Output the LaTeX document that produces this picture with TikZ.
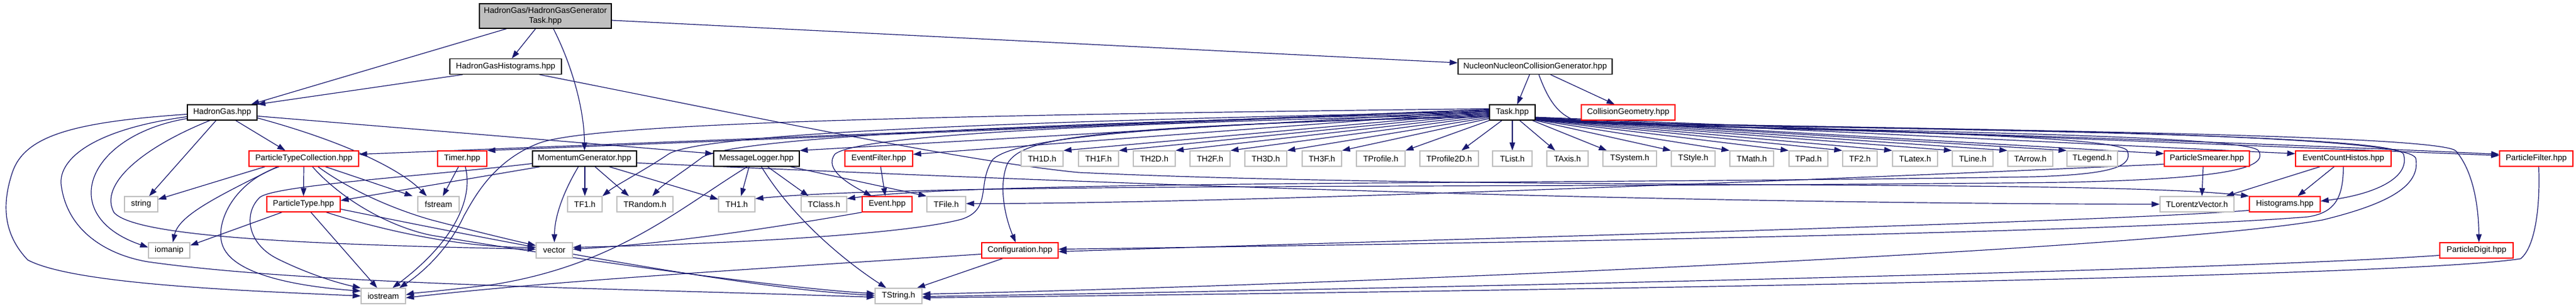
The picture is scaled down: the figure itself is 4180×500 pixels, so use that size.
\documentclass[tikz,border=0pt]{standalone}
\usepackage{fontspec}
\setmainfont{Liberation Sans}
\usetikzlibrary{arrows.meta}
\definecolor{edgec}{HTML}{191970}
\definecolor{sysgray}{HTML}{BFBFBF}
\definecolor{trunc}{HTML}{FF0000}
\definecolor{rootfill}{HTML}{BFBFBF}
\pgfdeclarelayer{bg}
\pgfdeclarelayer{edges}
\pgfsetlayers{bg,edges,main}
\tikzset{
  nbox/.style={rectangle, line width=1.3pt, minimum height=25pt, inner sep=0pt, fill=white, text=black, font=\fontsize{13.3}{15.5}\selectfont},
  docb/.style={nbox, draw=black},
  truncb/.style={nbox, draw=trunc},
  sysb/.style={nbox, draw=sysgray},
  dep/.style={draw=edgec, line width=1.2pt, -{Triangle[length=13pt,width=9pt]}},
}
\begin{document}
\begin{tikzpicture}[x=1pt,y=-1pt]
\begin{pgfonlayer}{bg}
\fill[white] (0,0) rectangle (4180,500);
\end{pgfonlayer}
\useasboundingbox (0,0) rectangle (4180,500);
% ---- nodes ----
\node[docb, fill=rootfill, minimum width=214pt, minimum height=40pt, align=center] (root) at (885,26) {HadronGas/HadronGasGenerator\\Task.hpp};
\node[docb, minimum width=181pt] (hgh) at (820.5,108) {HadronGasHistograms.hpp};
\node[docb, minimum width=250pt] (nncg) at (2491,108) {NucleonNucleonCollisionGenerator.hpp};
\node[docb, minimum width=113pt] (hg) at (360.5,182.5) {HadronGas.hpp};
\node[docb, minimum width=74pt] (task) at (2454,182.5) {Task.hpp};
\node[truncb, minimum width=152pt] (cgeo) at (2642,182.5) {CollisionGeometry.hpp};
% row 3
\node[truncb, minimum width=178pt] (ptc) at (493,257.5) {ParticleTypeCollection.hpp};
\node[truncb, minimum width=80pt] (timer) at (750,257.5) {Timer.hpp};
\node[docb, minimum width=169pt] (mg) at (948.5,257.5) {MomentumGenerator.hpp};
\node[docb, minimum width=139pt] (mlog) at (1227.5,257.5) {MessageLogger.hpp};
\node[truncb, minimum width=110pt] (efilt) at (1426,257.5) {EventFilter.hpp};
\node[sysb, minimum width=68pt] (th1d) at (1691,257.5) {TH1D.h};
\node[sysb, minimum width=65pt] (th1f) at (1782.5,257.5) {TH1F.h};
\node[sysb, minimum width=68pt] (th2d) at (1873,257.5) {TH2D.h};
\node[sysb, minimum width=65pt] (th2f) at (1963.5,257.5) {TH2F.h};
\node[sysb, minimum width=68pt] (th3d) at (2054,257.5) {TH3D.h};
\node[sysb, minimum width=64pt] (th3f) at (2145,257.5) {TH3F.h};
\node[sysb, minimum width=79pt] (tprof) at (2240.5,257.5) {TProfile.h};
\node[sysb, minimum width=95pt] (tprof2) at (2351.5,257.5) {TProfile2D.h};
\node[sysb, minimum width=64pt] (tlist) at (2454,257.5) {TList.h};
\node[sysb, minimum width=67pt] (taxis) at (2543.5,257.5) {TAxis.h};
\node[sysb, minimum width=87pt] (tsys) at (2644.5,257.5) {TSystem.h};
\node[sysb, minimum width=71pt] (tstyle) at (2747.5,257.5) {TStyle.h};
\node[sysb, minimum width=71pt] (tmath) at (2842.5,257.5) {TMath.h};
\node[sysb, minimum width=63pt] (tpad) at (2934.5,257.5) {TPad.h};
\node[sysb, minimum width=56pt] (tf2) at (3018,257.5) {TF2.h};
\node[sysb, minimum width=73pt] (tlatex) at (3107.5,257.5) {TLatex.h};
\node[sysb, minimum width=66pt] (tline) at (3201,257.5) {TLine.h};
\node[sysb, minimum width=73pt] (tarrow) at (3294.5,257.5) {TArrow.h};
\node[sysb, minimum width=82pt] (tlegend) at (3395,257.5) {TLegend.h};
\node[truncb, minimum width=138pt] (psmear) at (3581,257.5) {ParticleSmearer.hpp};
\node[truncb, minimum width=155pt] (ech) at (3802.5,257.5) {EventCountHistos.hpp};
\node[truncb, minimum width=119pt] (pfilt) at (4115.5,257.5) {ParticleFilter.hpp};
% row 4
\node[sysb, minimum width=54pt] (string) at (229,331.5) {string};
\node[truncb, minimum width=119pt] (ptype) at (492.5,331.5) {ParticleType.hpp};
\node[sysb, minimum width=67pt] (fstream) at (711.5,331.5) {fstream};
\node[sysb, minimum width=56pt] (tf1) at (949,331.5) {TF1.h};
\node[sysb, minimum width=91pt] (trandom) at (1046.5,331.5) {TRandom.h};
\node[sysb, minimum width=59pt] (th1) at (1195.5,331.5) {TH1.h};
\node[sysb, minimum width=74pt] (tclass) at (1337,331.5) {TClass.h};
\node[truncb, minimum width=81pt] (event) at (1439.5,331.5) {Event.hpp};
\node[sysb, minimum width=63pt] (tfile) at (1535.5,331.5) {TFile.h};
\node[sysb, minimum width=120pt] (tlv) at (3565,331.5) {TLorentzVector.h};
\node[truncb, minimum width=115pt] (hist) at (3707.5,331.5) {Histograms.hpp};
% row 5
\node[sysb, minimum width=67pt] (iomanip) at (274.5,406.5) {iomanip};
\node[sysb, minimum width=59pt] (vector) at (899.5,406.5) {vector};
\node[truncb, minimum width=124pt] (config) at (1655,406.5) {Configuration.hpp};
\node[truncb, minimum width=119pt] (pdigit) at (4018.5,406.5) {ParticleDigit.hpp};
% row 6
\node[sysb, minimum width=72pt] (iostream) at (622,480.5) {iostream};
\node[sysb, minimum width=76pt] (tstring) at (1458,480.5) {TString.h};
% ---- edges ----
\begin{pgfonlayer}{edges}
% root
\draw[dep] ([xshift=-63pt]root.south) -- ([xshift=47pt]hg.north);
\draw[dep] ([xshift=-16pt]root.south) -- ([xshift=10pt]hgh.north);
\draw[dep] ([xshift=13pt]root.south) .. controls (930,110) and (948,180) .. (mg.north);
\draw[dep] ([yshift=-7pt]root.east) -- ([yshift=6pt]nncg.west);
% HadronGasHistograms
\draw[dep] ([xshift=-70pt]hgh.south) -- (hg.north east);
\draw[dep] ([xshift=55pt]hgh.south) .. controls (1200,185) and (1550,260) .. (1750,280) .. controls (2400,310) and (3400,290) .. (hist.north west);
% NucleonNucleonCollisionGenerator
\draw[dep] ([xshift=-9pt]nncg.south) -- ([xshift=8pt]task.north);
\draw[dep] ([xshift=25pt]nncg.south) -- ([xshift=-22pt]cgeo.north);
\draw[dep] ([xshift=6pt]nncg.south) .. controls (2515,170) and (2535,197) .. (2580,200) .. controls (3200,215) and (3800,238) .. ([yshift=7pt]pfilt.west);
% HadronGas
\draw[dep] ([xshift=22pt]hg.south) -- ([xshift=-30pt]ptc.north);
\draw[dep] ([xshift=-10pt]hg.south) -- ([xshift=13pt]string.north);
\draw[dep] ([yshift=-10pt]hg.west) .. controls (140,220) and (90,350) .. ([yshift=5pt]iomanip.west);
\draw[dep] ([yshift=-3pt]hg.west) .. controls (120,198) and (40,220) .. (20,280) .. controls (0,340) and (10,385) .. (45,422) .. controls (120,462) and (400,472) .. (iostream.west);
\draw[dep] ([yshift=-7pt]hg.west) .. controls (150,210) and (90,260) .. (100,305) .. controls (112,380) and (180,415) .. (240,425) .. controls (500,462) and (1000,468) .. ([yshift=-2pt]tstring.west);
\draw[dep] ([xshift=-20pt]hg.south) .. controls (230,240) and (160,300) .. (185,345) .. controls (220,385) and (500,397) .. ([yshift=2pt]vector.west);
\draw[dep] ([yshift=-6pt]hg.east) -- ([yshift=8pt]mlog.west);
\draw[dep] ([yshift=-9pt]hg.east) .. controls (560,230) and (650,275) .. ([xshift=-19pt]fstream.north);
% ParticleTypeCollection
\draw[dep] ([xshift=-63pt]ptc.south) -- ([yshift=8pt]string.east);
\draw[dep] ([xshift=-43pt]ptc.south) .. controls (350,320) and (290,350) .. ([xshift=6pt]iomanip.north);
\draw[dep] ([xshift=-40pt]ptc.south) .. controls (380,295) and (350,360) .. (360,395) .. controls (375,450) and (500,466) .. ([yshift=8pt]iostream.west);
\draw[dep] (ptc.south) -- (ptype.north);
\draw[dep] ([xshift=35pt]ptc.south) -- ([xshift=-42pt]fstream.north);
\draw[dep] ([xshift=23pt]ptc.south) .. controls (570,310) and (640,340) .. (700,357) .. controls (780,378) and (840,392) .. ([yshift=8pt]vector.west);
\draw[dep] ([xshift=14pt]ptc.south) .. controls (560,330) and (640,370) .. (700,382) .. controls (1000,432) and (1300,470) .. ([yshift=4pt]tstring.west);
% ParticleType
\draw[dep] ([xshift=-35pt]ptype.south) -- ([yshift=8pt]iomanip.east);
\draw[dep] ([xshift=12pt]ptype.south) -- ([xshift=-10pt]iostream.north);
\draw[dep] ([xshift=37pt]ptype.south) .. controls (640,380) and (760,402) .. ([yshift=5pt]vector.west);
\draw[dep] ([yshift=-8pt]ptype.east) .. controls (800,390) and (1200,468) .. ([yshift=1pt]tstring.west);
% MomentumGenerator
\draw[dep] ([yshift=-8pt]mg.west) .. controls (700,285) and (450,300) .. (422,320) .. controls (395,345) and (400,395) .. (450,420) .. controls (500,445) and (550,460) .. (iostream.north west);
\draw[dep] ([xshift=-72pt]mg.south) -- ([yshift=6pt]ptype.east);
\draw[dep] ([xshift=-10pt]mg.south) .. controls (915,310) and (900,350) .. (vector.north);
\draw[dep] ([xshift=0.5pt]mg.south) -- (tf1.north);
\draw[dep] ([xshift=17pt]mg.south) -- ([xshift=-26pt]trandom.north);
\draw[dep] ([xshift=40pt]mg.south) -- ([yshift=8pt]th1.west);
\draw[dep] ([yshift=-7pt]mg.east) .. controls (1500,285) and (2500,330) .. (tlv.west);
% Timer
\draw[dep] ([xshift=-6pt]timer.south) -- ([xshift=7pt]fstream.north);
\draw[dep] ([xshift=5pt]timer.south) .. controls (768,320) and (740,390) .. ([xshift=15pt]iostream.north);
% MessageLogger
\draw[dep] ([xshift=-12pt]mlog.south) -- ([xshift=7pt]th1.north);
\draw[dep] ([xshift=18pt]mlog.south) -- ([xshift=-25pt]tclass.north);
\draw[dep] ([xshift=55pt]mlog.south) -- (tfile.north west);
\draw[dep] ([xshift=-15pt]mlog.south) .. controls (1100,340) and (1000,430) .. (800,462) .. controls (700,474) and (670,476) .. ([yshift=2pt]iostream.east);
\draw[dep] ([xshift=8pt]mlog.south) .. controls (1290,360) and (1380,430) .. ([xshift=-20pt]tstring.north);
% EventFilter, Event
\draw[dep] ([xshift=3pt]efilt.south) -- ([xshift=-3pt]event.north);
\draw[dep] (event.south west) .. controls (1300,362) and (1100,395) .. ([yshift=2pt]vector.east);
% Configuration
\draw[dep] ([yshift=-6pt]config.west) .. controls (1300,432) and (900,455) .. ([yshift=-3pt]iostream.east);
\draw[dep] ([xshift=-28pt]config.south) -- ([xshift=30pt]tstring.north);
% Task: straight fan to the left
\draw[dep] ([yshift=5pt]task.west) -- ([yshift=7pt]ptc.east);
\draw[dep] ([yshift=4pt]task.west) -- (timer.north east);
\draw[dep] ([yshift=3pt]task.west) -- (mlog.north east);
\draw[dep] ([yshift=2pt]task.west) -- ([yshift=7pt]efilt.east);
\draw[dep] (task.west) -- (th1d.north east);
\draw[dep] ([yshift=-2pt]task.west) -- (th1f.north east);
\draw[dep] ([yshift=-4pt]task.west) -- (th2d.north east);
\draw[dep] ([yshift=-6pt]task.west) -- (th2f.north east);
\draw[dep] ([yshift=-8pt]task.west) -- (th3d.north east);
\draw[dep] ([yshift=-10pt]task.west) -- (th3f.north east);
\draw[dep] (task.south west) -- (tprof.north east);
\draw[dep] ([xshift=-17pt]task.south) -- ([xshift=20pt]tprof2.north);
\draw[dep] (task.south) -- (tlist.north);
\draw[dep] ([xshift=12pt]task.south) -- ([xshift=-20pt]taxis.north);
% Task: straight fan to the right (under CollisionGeometry)
\draw[dep] ([xshift=-5pt]task.south east) -- ([xshift=7pt]tsys.north west);
\draw[dep] (task.south east) -- (tstyle.north west);
\draw[dep] ([yshift=1pt]task.south east) -- (tmath.north west);
\draw[dep] ([yshift=1.5pt]task.south east) -- (tpad.north west);
\draw[dep] ([yshift=2pt]task.south east) -- (tf2.north west);
\draw[dep] ([yshift=2.5pt]task.south east) -- (tlatex.north west);
\draw[dep] ([yshift=3pt]task.south east) -- (tline.north west);
\draw[dep] ([yshift=3.5pt]task.south east) -- (tarrow.north west);
\draw[dep] ([yshift=4pt]task.south east) -- (tlegend.north west);
\draw[dep] ([yshift=4.5pt]task.south east) -- ([yshift=8pt]psmear.west);
\draw[dep] ([yshift=5pt]task.south east) -- ([yshift=8pt]ech.west);
\draw[dep] ([yshift=5.5pt]task.south east) -- ([yshift=5pt]pfilt.west);
% Task: curves to the left
\draw[dep] ([yshift=6pt]task.west) .. controls (1400,188) and (950,203) .. (873,233) .. controls (800,262) and (770,320) .. (753,350) .. controls (730,400) and (690,440) .. ([xshift=26pt]iostream.north);
\draw[dep] ([yshift=1pt]task.west) .. controls (1700,195) and (1140,215) .. (1085,250) .. controls (1040,280) and (1000,300) .. (tf1.north east);
\draw[dep] ([yshift=-1pt]task.west) .. controls (1750,198) and (1200,220) .. (1140,255) .. controls (1100,285) and (1075,300) .. ([xshift=12pt]trandom.north);
\draw[dep] ([yshift=-3pt]task.west) .. controls (1900,198) and (1400,215) .. (1355,250) .. controls (1335,275) and (1380,300) .. ([xshift=-25pt]event.north);
\draw[dep] ([yshift=-5pt]task.west) .. controls (2000,200) and (1650,215) .. (1610,260) .. controls (1585,300) and (1610,340) .. (1560,356) .. controls (1450,385) and (1100,398) .. ([yshift=5pt]vector.east);
\draw[dep] ([yshift=-7pt]task.west) .. controls (1750,205) and (1660,225) .. (1635,265) .. controls (1620,300) and (1630,350) .. ([xshift=-7pt]config.north);
% Task: loops round the right
\draw[dep] ([yshift=1pt]task.south east) .. controls (2650,209) and (3440,212) .. (3452,245) .. controls (3462,272) and (3420,283) .. (3300,287) .. controls (2500,300) and (1600,292) .. ([yshift=9pt]tclass.east);
\draw[dep] ([yshift=1.5pt]task.south east) .. controls (2650,210) and (3650,212) .. (3665,245) .. controls (3680,272) and (3620,290) .. (3350,296) .. controls (2500,306) and (1500,296) .. ([yshift=9pt]th1.east);
\draw[dep] ([yshift=2pt]task.south east) .. controls (2650,209) and (3880,208) .. (3900,250) .. controls (3912,290) and (3850,316) .. ([yshift=5pt]hist.east);
\draw[dep] ([yshift=2.5pt]task.south east) .. controls (2650,208) and (3905,205) .. (3920,257) .. controls (3928,300) and (3880,330) .. (3769,357) .. controls (3500,405) and (2200,462) .. ([yshift=3pt]tstring.east);
\draw[dep] ([yshift=3pt]task.south east) .. controls (2650,208) and (3950,210) .. (3985,245) .. controls (4015,280) and (4022,340) .. ([xshift=4pt]pdigit.north);
% ParticleSmearer
\draw[dep] ([xshift=-6pt]psmear.south) -- ([xshift=8pt]tlv.north);
\draw[dep] ([yshift=-9pt]psmear.west) .. controls (3000,290) and (2000,331) .. ([yshift=1pt]tfile.east);
% EventCountHistos
\draw[dep] ([xshift=-38pt]ech.south) -- ([xshift=47pt]tlv.north);
\draw[dep] ([xshift=-15pt]ech.south) -- ([xshift=21pt]hist.north);
\draw[dep] (ech.south) .. controls (3802,320) and (3790,345) .. (3745,352) .. controls (3400,380) and (2200,398) .. ([yshift=2pt]config.east);
% Histograms
\draw[dep] ([yshift=-10pt]hist.west) .. controls (3400,362) and (2200,392) .. ([yshift=-2pt]config.east);
% ParticleDigit, ParticleFilter
\draw[dep] ([yshift=-8pt]pdigit.west) .. controls (3600,440) and (2200,470) .. ([yshift=-1pt]tstring.east);
\draw[dep] ([xshift=4pt]pfilt.south) .. controls (4122,330) and (4115,400) .. (4090,420) .. controls (3900,450) and (2500,472) .. ([yshift=-3pt]tstring.east);
\end{pgfonlayer}
\end{tikzpicture}
\end{document}
